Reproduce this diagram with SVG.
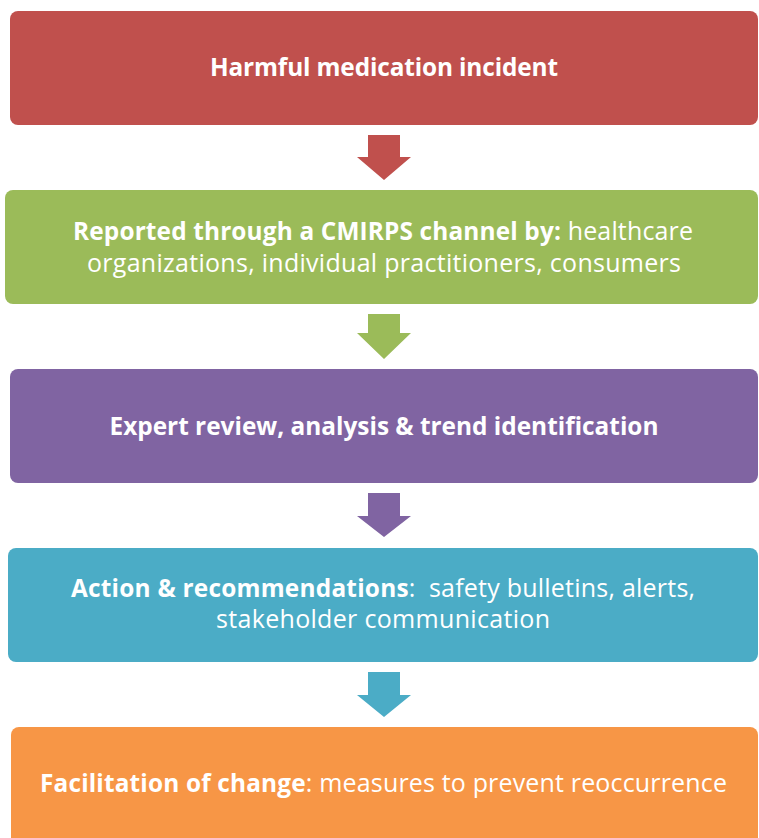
<svg xmlns="http://www.w3.org/2000/svg" width="759" height="838" viewBox="0 0 759 838">
<style>
text{font-family:"Open Sans","Liberation Sans",sans-serif;font-size:25px;fill:#fff;text-anchor:middle}
.b{font-weight:bold;font-size:24.4px}
</style>
<rect width="759" height="838" fill="#fff"/>
<g id="connectors">
<polygon points="368,135 400,135 400,157 411,157 384,180 357,157 368,157" fill="#C0504D"/>
<polygon points="368,314 400,314 400,333 411,333 384,359 357,333 368,333" fill="#9BBB59"/>
<polygon points="368,493 400,493 400,516 411,516 384,537 357,516 368,516" fill="#8064A2"/>
<polygon points="368,672 400,672 400,695 411,695 384,717 357,695 368,695" fill="#4BACC6"/>
</g>
<g id="n1">
<rect x="10" y="11" width="748" height="114" rx="8" fill="#C0504D"/>
<text x="384" y="76" class="b" textLength="348">Harmful medication incident</text>
</g>
<g id="n2">
<rect x="5" y="190" width="753" height="114" rx="8" fill="#9BBB59"/>
<text x="383" y="240" textLength="620"><tspan class="b">Reported through a CMIRPS channel by:</tspan> healthcare</text>
<text x="384" y="272" textLength="594">organizations, individual practitioners, consumers</text>
</g>
<g id="n3">
<rect x="10" y="369" width="748" height="114" rx="8" fill="#8064A2"/>
<text x="384" y="435" class="b" textLength="549">Expert review, analysis &amp; trend identification</text>
</g>
<g id="n4">
<rect x="8" y="548" width="750" height="114" rx="8" fill="#4BACC6"/>
<text x="383" y="597" xml:space="preserve" textLength="624"><tspan class="b">Action &amp; recommendations</tspan>:  safety bulletins, alerts,</text>
<text x="383" y="628" textLength="334">stakeholder communication</text>
</g>
<g id="n5">
<rect x="11" y="727" width="747" height="120" rx="8" fill="#F79646"/>
<text x="383.5" y="792" textLength="687"><tspan class="b">Facilitation of change</tspan>: measures to prevent reoccurrence</text>
</g>
</svg>
